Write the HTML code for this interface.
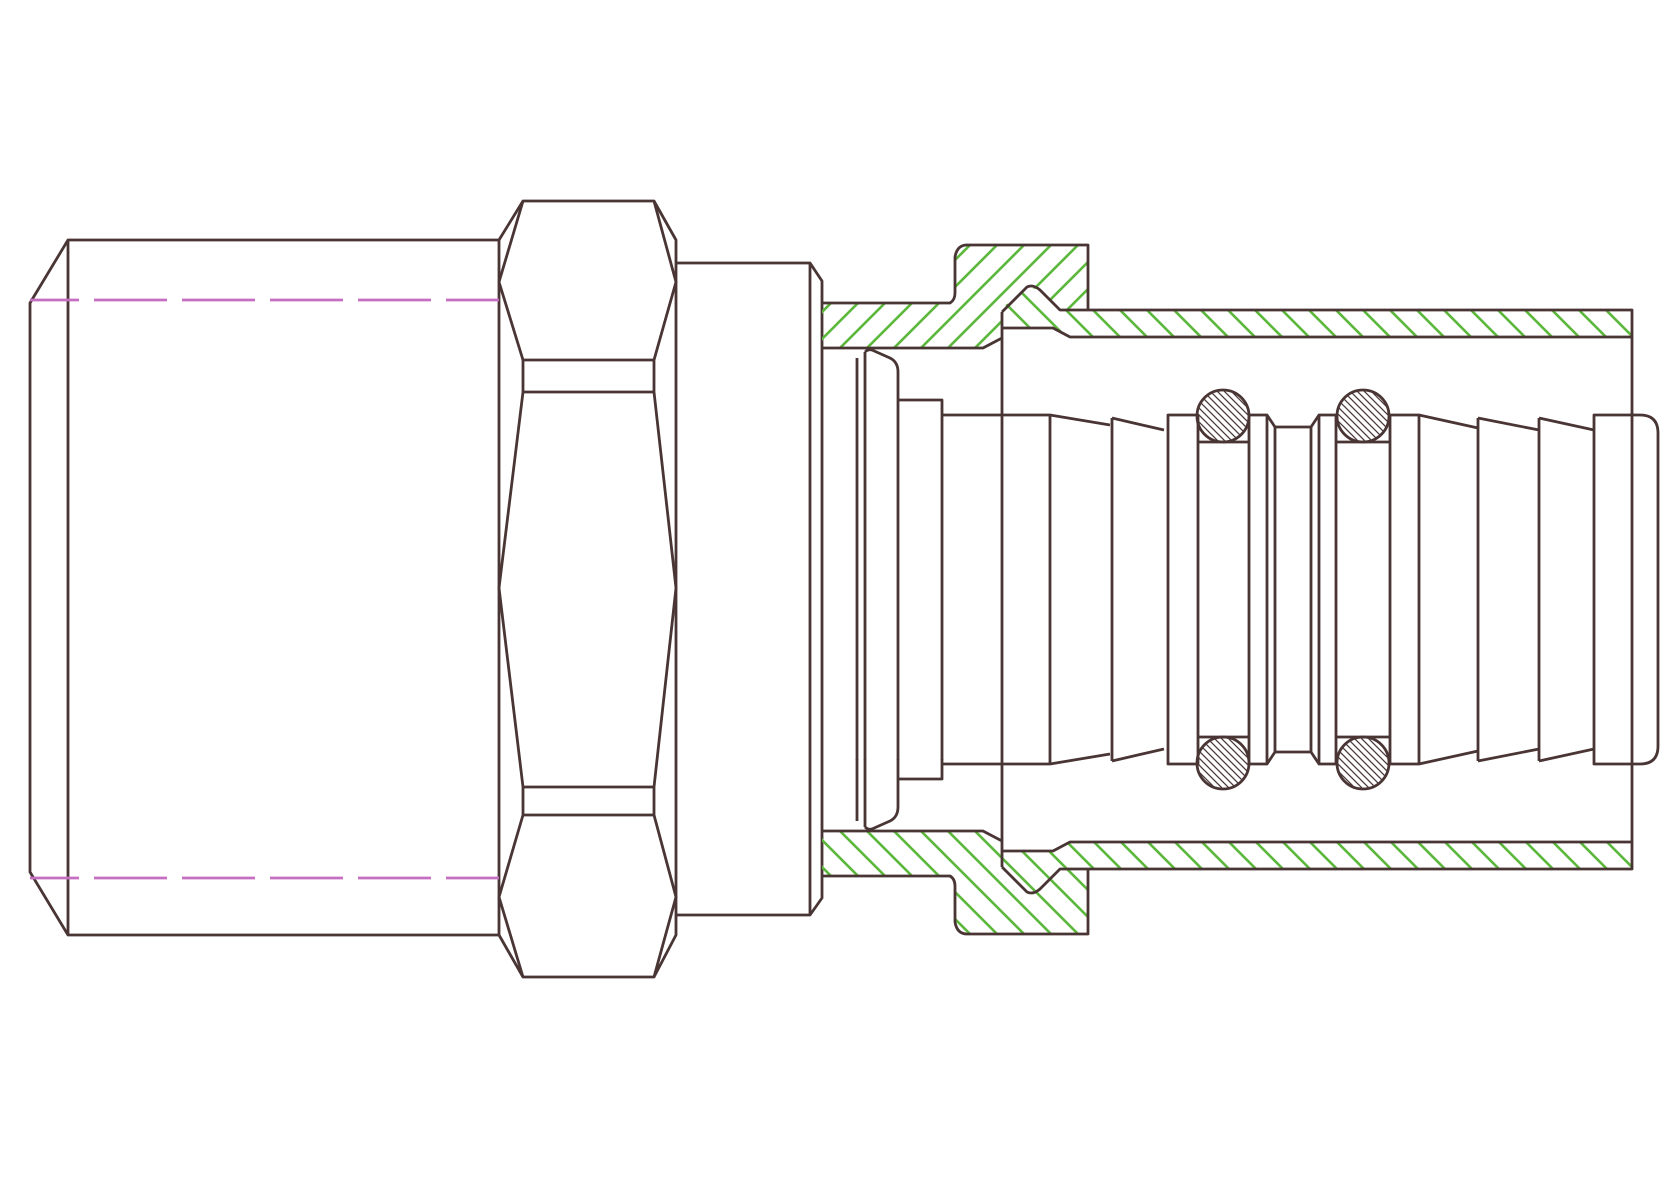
<!DOCTYPE html>
<html><head><meta charset="utf-8"><style>html,body{margin:0;padding:0;background:#fff}svg{display:block}</style></head>
<body>
<svg width="1671" height="1180" viewBox="0 0 1671 1180" xmlns="http://www.w3.org/2000/svg">
<defs>
<pattern id="hf" patternUnits="userSpaceOnUse" width="27" height="27">
<path d="M-5,32 L32,-5 M-5,5 L5,-5 M22,32 L32,22" stroke="#5cb83c" stroke-width="2.6"/></pattern>
<pattern id="hb" patternUnits="userSpaceOnUse" width="27" height="27">
<path d="M-5,-5 L32,32 M22,-5 L32,5 M-5,22 L5,32" stroke="#5cb83c" stroke-width="2.6"/></pattern>
<pattern id="ho" patternUnits="userSpaceOnUse" width="7" height="7">
<path d="M-2,-2 L9,9 M5,-2 L9,2 M-2,5 L2,9" stroke="#4a3838" stroke-width="1.3"/></pattern>
</defs>
<g fill="none" stroke="#4a3535" stroke-width="2.8" stroke-linejoin="round">
<path d="M68,240 L499,240 L499,935 L68,935 L30,872 L30,303 Z M68,240 L68,935"/>
<path d="M499,240 L523,201 L654,201 L676,240 L676,935 L654,977 L523,977 L499,935"/>
<path d="M523,201 L499,282 L523,360 L523,392 L499,588 L523,787 L523,815 L499,897 L523,977"/>
<path d="M654,201 L676,282 L654,360 L654,392 L676,588 L654,787 L654,815 L676,897 L654,977"/>
<path d="M523,360 H654 M523,392 H654 M523,787 H654 M523,815 H654"/>
<path d="M676,263 L810,263 L822,281 L822,898 L810,915 L676,915 M810,263 L810,915"/>
</g>
<g stroke="#c56fc2" stroke-width="2.8" stroke-dasharray="73 15" stroke-dashoffset="24">
<path d="M30,300 H499"/><path d="M30,878 H499"/>
</g>
<g>
<path d="M822,303 L950,303 Q955,300 955,293 L955,257 Q957,245 967,245 L1088,245 L1088,310 L1060,310 L1053,302 L1040,290 L1027,287 L1002,308 L1002,338 L983,348 L822,348 Z" fill="url(#hf)"/>
<path d="M1002,308 L1027,287 L1040,290 L1060,310 L1632,310 L1632,337 L1070,337 L1053,328 L1002,328 Z" fill="url(#hb)"/>
</g>
<g transform="translate(0,1179) scale(1,-1)">
<path d="M822,303 L950,303 Q955,300 955,293 L955,257 Q957,245 967,245 L1088,245 L1088,310 L1060,310 L1053,302 L1040,290 L1027,287 L1002,308 L1002,338 L983,348 L822,348 Z" fill="url(#hf)"/>
<path d="M1002,308 L1027,287 L1040,290 L1060,310 L1632,310 L1632,337 L1070,337 L1053,328 L1002,328 Z" fill="url(#hf)"/>
</g>
<g fill="none" stroke="#4a3535" stroke-width="2.8" stroke-linejoin="round">
<g id="outl">
<path d="M822,303 L950,303 Q955,300 955,293 L955,257 Q957,245 967,245 L1088,245 L1088,310"/>
<path d="M822,348 L983,348 L1002,338"/>
<path d="M1002,312 L1027,287 Q1033,284 1040,290 L1060,310 L1632,310 L1632,337 L1070,337 L1053,328 L1002,328"/>
<path d="M857,358 L857,420 M865,352 L865,420"/>
<path d="M865,352 Q868,349 872,350 L890,358 Q898,362 898,372 L898,420"/>
<path d="M898,400 L942,400 L942,420"/>
</g>
<use href="#outl" transform="translate(0,1179) scale(1,-1)"/>
<path d="M1002,312 L1002,867 M1632,337 L1632,842"/>
<path d="M857,420 V760 M865,420 V760 M898,420 V760 M942,420 V760"/>
<path d="M942,415 L1050,415 L1110,425 M942,764 L1050,764 L1110,754 M1050,415 V764"/>
<path d="M1112,418 L1164,430 M1112,761 L1164,749 M1112,418 V761"/>
<path d="M1168,415 H1198 V764 H1168 Z"/>
<path d="M1198,442 H1249 M1198,737 H1249 M1249,415 V764"/>
<path d="M1249,415 H1267 L1275,427 H1311 L1319,415 H1336 M1249,764 H1267 L1275,752 H1311 L1319,764 H1336"/>
<path d="M1267,415 V764 M1275,427 V752 M1311,427 V752 M1319,415 V764 M1336,415 V764"/>
<path d="M1336,442 H1390 M1336,737 H1390 M1390,415 V764"/>
<path d="M1390,415 H1419 V764 H1390"/>
<path d="M1419,415 L1478,428 M1419,764 L1478,751 M1478,418 V761 M1478,418 L1539,430 M1478,761 L1539,749 M1539,418 V761 M1539,418 L1594,430 M1539,761 L1594,749"/>
<path d="M1594,415 L1640,415 Q1658,415 1658,433 L1658,746 Q1658,764 1640,764 L1594,764 Z"/>
<g fill="url(#ho)">
<circle cx="1223" cy="416" r="26"/><circle cx="1223" cy="763" r="26"/>
<circle cx="1363" cy="416" r="26"/><circle cx="1363" cy="763" r="26"/>
</g>
</g>
</svg>
</body></html>
